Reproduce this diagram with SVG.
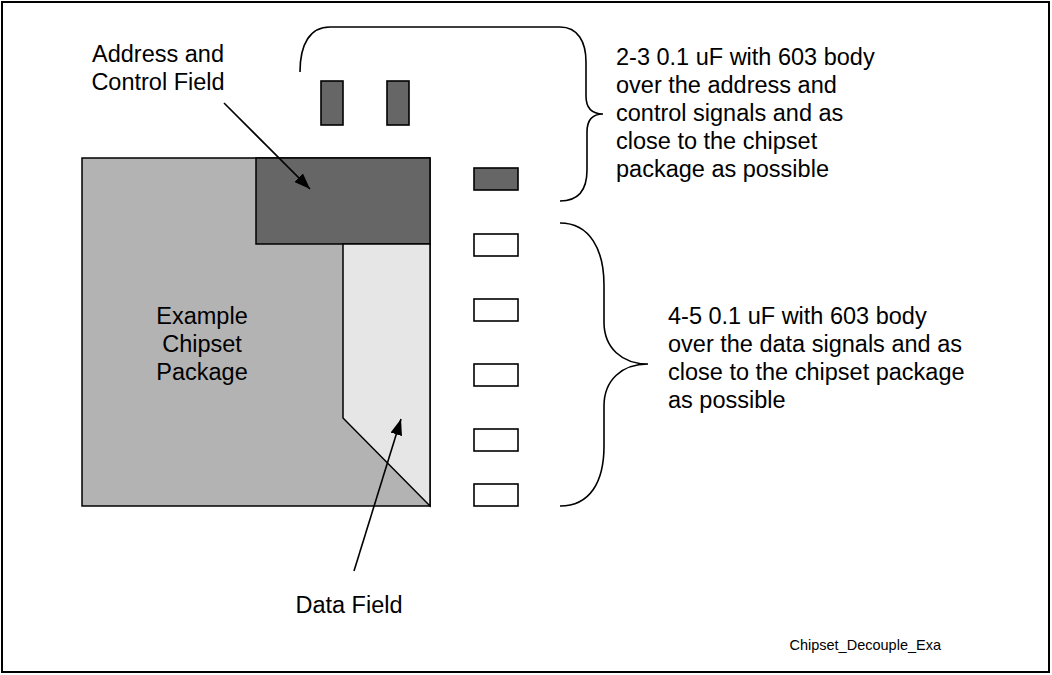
<svg xmlns="http://www.w3.org/2000/svg" width="1052" height="675" viewBox="0 0 1052 675">
<defs>
<marker id="ah" viewBox="0 0 16 12" refX="16" refY="6" markerWidth="16" markerHeight="12" markerUnits="userSpaceOnUse" orient="auto">
<path d="M0,0 L16,6 L0,12 z" fill="#000"/>
</marker>
</defs>
<style>
.t{font-family:"Liberation Sans",Arial,sans-serif;font-size:23.5px;fill:#000}
.s{font-family:"Liberation Sans",Arial,sans-serif;font-size:14.5px;fill:#000}
.o{stroke:#000;stroke-width:1.5}
.cd{fill:#666;stroke:#000;stroke-width:1.6}
.cw{fill:#fff;stroke:#000;stroke-width:1.6}
.br{fill:none;stroke:#000;stroke-width:1.6}
.ln{fill:none;stroke:#000;stroke-width:1.6}
</style>
<rect x="2" y="2" width="1047" height="670" fill="#fff" stroke="#000" stroke-width="2"/>
<g id="package">
<rect x="82" y="158" width="348" height="348" fill="#b3b3b3" class="o"/>
<text class="t" text-anchor="middle"><tspan x="202" y="324">Example</tspan><tspan x="202" y="352.2">Chipset</tspan><tspan x="202" y="380.4">Package</tspan></text>
</g>
<g id="address-field">
<rect x="256" y="158" width="174" height="86" fill="#666" class="o"/>
</g>
<g id="data-field">
<polygon points="343,244 430,244 430,506 343,418" fill="#e6e6e6" class="o"/>
</g>
<g id="caps-address">
<rect x="321" y="81" width="22" height="44" class="cd"/>
<rect x="387" y="81" width="22" height="44" class="cd"/>
<rect x="474" y="168" width="44" height="22" class="cd"/>
</g>
<g id="caps-data">
<rect x="474" y="234" width="44" height="22" class="cw"/>
<rect x="474" y="299" width="44" height="22" class="cw"/>
<rect x="474" y="364" width="44" height="22" class="cw"/>
<rect x="474" y="429" width="44" height="22" class="cw"/>
<rect x="474" y="484" width="44" height="22" class="cw"/>
</g>
<g id="brace-address">
<path class="br" d="M300,72 C300,44 310,27 330,27 L560,27 C578,27 586,42 586,62 L586,96 C586,108 592,114 603,114 C592,114 587,120 587,132 L587,170 C587,190 578,201 560,201"/>
</g>
<g id="brace-data">
<path class="br" d="M560,223 C590,223 604,250 604,285 L604,322 C604,348 622,364 648,364 C622,364 604,380 604,406 L604,446 C604,482 590,506 560,506"/>
</g>
<g id="label-address">
<text class="t" text-anchor="middle"><tspan x="158" y="61.7">Address and</tspan><tspan x="158" y="89.5">Control Field</tspan></text>
</g>
<g id="label-data">
<text class="t" x="349" y="613.3" text-anchor="middle">Data Field</text>
</g>
<g id="note-address">
<text class="t"><tspan x="616" y="64.5">2-3 0.1 uF with 603 body</tspan><tspan x="616" y="92.7">over the address and</tspan><tspan x="616" y="120.9">control signals and as</tspan><tspan x="616" y="149.1">close to the chipset</tspan><tspan x="616" y="177.3">package as possible</tspan></text>
</g>
<g id="note-data">
<text class="t"><tspan x="668" y="323.5">4-5 0.1 uF with 603 body</tspan><tspan x="668" y="351.7">over the data signals and as</tspan><tspan x="668" y="379.9">close to the chipset package</tspan><tspan x="668" y="408.1">as possible</tspan></text>
</g>
<g id="caption">
<text class="s" x="941" y="650" text-anchor="end">Chipset_Decouple_Exa</text>
</g>
<g id="connectors">
<line class="ln" x1="224" y1="103" x2="310" y2="189" marker-end="url(#ah)"/>
<line class="ln" x1="354" y1="571" x2="401" y2="419" marker-end="url(#ah)"/>
</g>
</svg>
